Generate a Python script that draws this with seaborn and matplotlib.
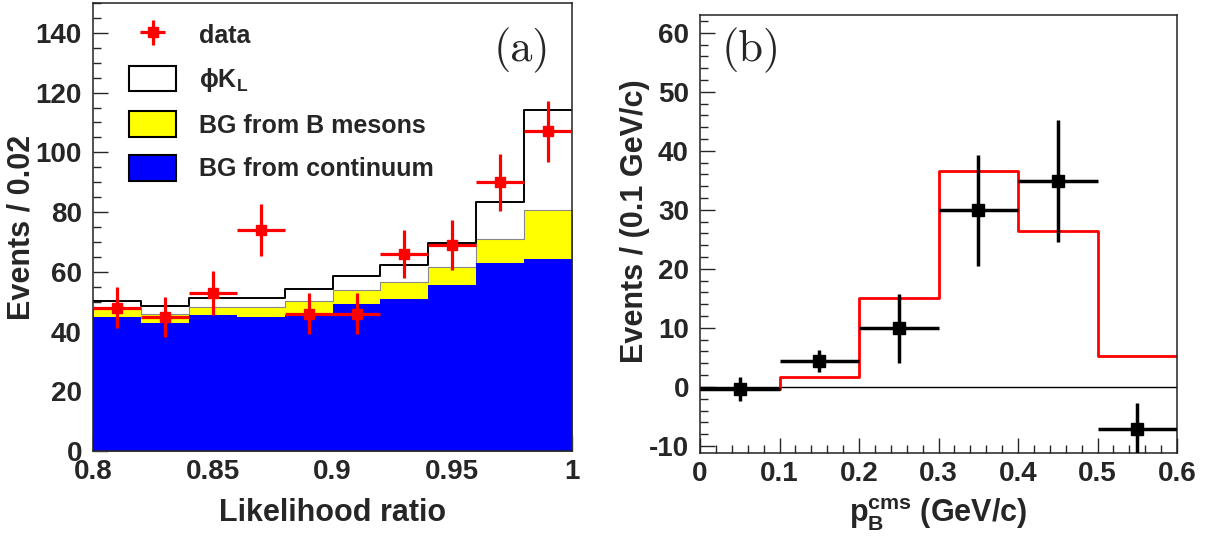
import numpy as np
import matplotlib
matplotlib.use("Agg")
import matplotlib.pyplot as plt
from matplotlib.patches import Patch
from matplotlib.ticker import MultipleLocator, FuncFormatter
import seaborn as sns

# panel (a): likelihood ratio, 10 bins of 0.02
lr_edges = [0.80, 0.82, 0.84, 0.86, 0.88, 0.90, 0.92, 0.94, 0.96, 0.98, 1.00]
lr_centers = [0.81, 0.83, 0.85, 0.87, 0.89, 0.91, 0.93, 0.95, 0.97, 0.99]
bg_continuum = [45.0, 43.0, 45.5, 44.8, 45.5, 49.2, 50.9, 55.6, 63.1, 64.3]
bg_bmesons = [2.8, 2.9, 2.8, 3.3, 4.7, 4.7, 5.6, 6.1, 7.8, 16.4]
sig_phikl = [2.4, 2.7, 2.8, 3.2, 3.9, 4.8, 5.8, 7.9, 12.6, 33.5]
lr_data = [48, 45, 53, 74, 46, 46, 66, 69, 90, 107]
lr_err = [6.9, 6.7, 7.3, 8.6, 6.8, 6.8, 8.1, 8.3, 9.5, 10.3]

# panel (b): p_B cms, 6 bins of 0.1 GeV/c
p_edges = [0.0, 0.1, 0.2, 0.3, 0.4, 0.5, 0.6]
p_centers = [0.05, 0.15, 0.25, 0.35, 0.45, 0.55]
p_expected = [-0.3, 1.6, 15.0, 36.5, 26.4, 5.2]
p_yield = [-0.4, 4.4, 9.9, 29.9, 34.9, -7.2]
p_err = [2.0, 1.9, 5.8, 9.4, 10.3, 4.4]

sns.set_style("ticks")
plt.rcParams['font.family'] = ['Liberation Sans', 'DejaVu Sans']
plt.rcParams['font.weight'] = 'bold'
plt.rcParams['axes.labelweight'] = 'bold'
plt.rcParams['axes.unicode_minus'] = False
plt.rcParams['mathtext.fontset'] = 'custom'
plt.rcParams['mathtext.rm'] = 'Liberation Sans:bold'
plt.rcParams['mathtext.bf'] = 'Liberation Sans:bold'
plt.rcParams['mathtext.it'] = 'Liberation Sans:bold'

fig = plt.figure(figsize=(12.07, 5.37), dpi=100)
ax1 = fig.add_axes([0.0771, 0.1601, 0.3969, 0.8343])
ax2 = fig.add_axes([0.5800, 0.1564, 0.3952, 0.8156])

# stacked tops
top_blue = np.array(bg_continuum)
top_yellow = top_blue + np.array(bg_bmesons)
top_total = top_yellow + np.array(sig_phikl)

sns.histplot(x=lr_centers, weights=top_yellow, bins=lr_edges, element='step',
             fill=True, color='#ffff00', alpha=1, linewidth=0.8, edgecolor='#888888', ax=ax1)
sns.histplot(x=lr_centers, weights=top_blue, bins=lr_edges, element='step',
             fill=True, color='#0000ff', alpha=1, linewidth=0, ax=ax1)
sns.histplot(x=lr_centers, weights=top_total, bins=lr_edges, element='step',
             fill=False, color='black', linewidth=1.4, ax=ax1)
data_h = ax1.errorbar(lr_centers, lr_data, yerr=lr_err, xerr=0.01, fmt='s', color='#ff0000',
                      markersize=7, elinewidth=2.3, capsize=0, zorder=5)

ax1.set_xlim(0.8, 1.0)
ax1.set_ylim(0, 150)
ax1.xaxis.set_major_locator(MultipleLocator(0.05))
ax1.xaxis.set_minor_locator(MultipleLocator(0.01))
ax1.yaxis.set_major_locator(MultipleLocator(20))
ax1.yaxis.set_minor_locator(MultipleLocator(5))
ax1.xaxis.set_major_formatter(FuncFormatter(lambda v, p: f"{v:g}"))
ax1.set_xlabel('Likelihood ratio', fontsize=22)
ax1.set_ylabel('Events / 0.02', fontsize=22)
ax1.xaxis.set_label_coords(0.5, -0.105)
ax1.yaxis.set_label_coords(-0.118, 0.5)
ax1.text(0.954, 0.895, '(a)', transform=ax1.transAxes, ha='right', va='center',
         fontsize=32, family='cmr10', fontweight='normal')

handles = [data_h,
           Patch(facecolor='white', edgecolor='black', linewidth=1.5),
           Patch(facecolor='#ffff00', edgecolor='black', linewidth=1.5),
           Patch(facecolor='#0000ff', edgecolor='black', linewidth=1.5)]
labels = ['data', '\u03d5K$_{\\mathrm{L}}$', 'BG from B mesons', 'BG from continuum']
ax1.legend(handles, labels, loc='upper left', bbox_to_anchor=(0.075, 0.958), frameon=False,
           fontsize=18, borderpad=0, borderaxespad=0, handlelength=1.9, handleheight=1.2,
           labelspacing=0.7, handletextpad=0.9)

# panel (b)
ax2.axhline(0, color='black', linewidth=1)
sns.histplot(x=p_centers, weights=p_expected, bins=p_edges, element='step',
             fill=False, color='#ff0000', linewidth=2, ax=ax2)
ax2.errorbar(p_centers, p_yield, yerr=p_err, xerr=0.05, fmt='s', color='black',
             markersize=8.5, elinewidth=2.5, capsize=0, zorder=5)
ax2.set_xlim(0, 0.6)
ax2.set_ylim(-11.2, 63)
ax2.xaxis.set_major_locator(MultipleLocator(0.1))
ax2.xaxis.set_minor_locator(MultipleLocator(0.02))
ax2.yaxis.set_major_locator(MultipleLocator(10))
ax2.yaxis.set_minor_locator(MultipleLocator(2))
ax2.xaxis.set_major_formatter(FuncFormatter(lambda v, p: f"{v:g}"))
ax2.set_xlabel('p$_{\\mathrm{B}}^{\\mathrm{cms}}$ (GeV/c)', fontsize=22)
ax2.set_ylabel('Events / (0.1 GeV/c)', fontsize=22)
ax2.xaxis.set_label_coords(0.5, -0.1)
ax2.yaxis.set_label_coords(-0.105, 0.53)
ax2.text(0.046, 0.92, '(b)', transform=ax2.transAxes, ha='left', va='center',
         fontsize=32, family='cmr10', fontweight='normal')

for ax in (ax1, ax2):
    ax.tick_params(which='major', direction='in', length=11, width=1, labelsize=20,
                   top=False, right=False)
    ax.tick_params(which='minor', direction='in', length=5.5, width=1, top=False, right=False)
    ax.tick_params(axis='y', pad=8)
    ax.tick_params(axis='x', pad=6)
    for s in ax.spines.values():
        s.set_visible(True)
        s.set_linewidth(1.1)
        s.set_color('#222222')
    for lbl in ax.get_xticklabels() + ax.get_yticklabels():
        lbl.set_fontweight('bold')

fig.savefig('out.png', dpi=100)
